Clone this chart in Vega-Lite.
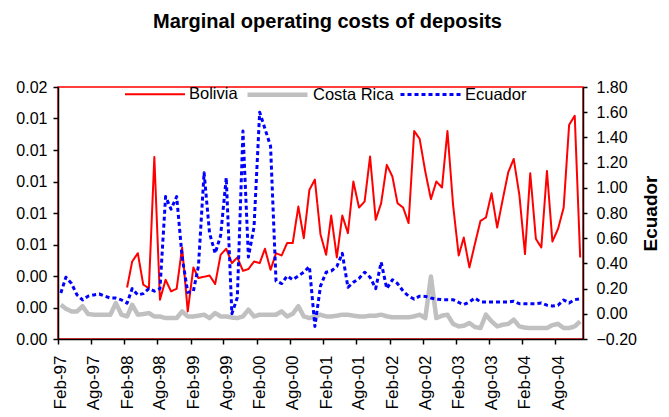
{
  "$schema": "https://vega.github.io/schema/vega-lite/v6.json",
  "width": 525,
  "height": 252,
  "autosize": {"type": "none"},
  "padding": {"left": 58, "top": 87, "right": 86, "bottom": 78},
  "title": {"text": "Marginal operating costs of deposits", "fontSize": 20, "fontWeight": "bold", "font": "Liberation Sans", "anchor": "middle", "dx": 7, "offset": 30, "color": "black"},
  "data": {"values": [
    {"date":"1997-02-01","series":"Costa Rica","value":0.00272},{"date":"1997-03-01","series":"Costa Rica","value":0.00240},{"date":"1997-04-01","series":"Costa Rica","value":0.00219},{"date":"1997-05-01","series":"Costa Rica","value":0.00219},{"date":"1997-06-01","series":"Costa Rica","value":0.00260},{"date":"1997-07-01","series":"Costa Rica","value":0.00198},{"date":"1997-08-01","series":"Costa Rica","value":0.00193},{"date":"1997-09-01","series":"Costa Rica","value":0.00193},{"date":"1997-10-01","series":"Costa Rica","value":0.00193},{"date":"1997-11-01","series":"Costa Rica","value":0.00193},{"date":"1997-12-01","series":"Costa Rica","value":0.00285},
    {"date":"1998-01-01","series":"Costa Rica","value":0.00193},{"date":"1998-02-01","series":"Costa Rica","value":0.00179},{"date":"1998-03-01","series":"Costa Rica","value":0.00272},{"date":"1998-04-01","series":"Costa Rica","value":0.00193},{"date":"1998-05-01","series":"Costa Rica","value":0.00198},{"date":"1998-06-01","series":"Costa Rica","value":0.00206},{"date":"1998-07-01","series":"Costa Rica","value":0.00179},{"date":"1998-08-01","series":"Costa Rica","value":0.00179},{"date":"1998-09-01","series":"Costa Rica","value":0.00166},{"date":"1998-10-01","series":"Costa Rica","value":0.00166},{"date":"1998-11-01","series":"Costa Rica","value":0.00166},{"date":"1998-12-01","series":"Costa Rica","value":0.00219},
    {"date":"1999-01-01","series":"Costa Rica","value":0.00179},{"date":"1999-02-01","series":"Costa Rica","value":0.00179},{"date":"1999-03-01","series":"Costa Rica","value":0.00185},{"date":"1999-04-01","series":"Costa Rica","value":0.00193},{"date":"1999-05-01","series":"Costa Rica","value":0.00166},{"date":"1999-06-01","series":"Costa Rica","value":0.00206},{"date":"1999-07-01","series":"Costa Rica","value":0.00179},{"date":"1999-08-01","series":"Costa Rica","value":0.00179},{"date":"1999-09-01","series":"Costa Rica","value":0.00170},{"date":"1999-10-01","series":"Costa Rica","value":0.00166},{"date":"1999-11-01","series":"Costa Rica","value":0.00179},{"date":"1999-12-01","series":"Costa Rica","value":0.00233},
    {"date":"2000-01-01","series":"Costa Rica","value":0.00179},{"date":"2000-02-01","series":"Costa Rica","value":0.00193},{"date":"2000-03-01","series":"Costa Rica","value":0.00193},{"date":"2000-04-01","series":"Costa Rica","value":0.00193},{"date":"2000-05-01","series":"Costa Rica","value":0.00193},{"date":"2000-06-01","series":"Costa Rica","value":0.00219},{"date":"2000-07-01","series":"Costa Rica","value":0.00179},{"date":"2000-08-01","series":"Costa Rica","value":0.00200},{"date":"2000-09-01","series":"Costa Rica","value":0.00260},{"date":"2000-10-01","series":"Costa Rica","value":0.00179},{"date":"2000-11-01","series":"Costa Rica","value":0.00166},{"date":"2000-12-01","series":"Costa Rica","value":0.00179},
    {"date":"2001-01-01","series":"Costa Rica","value":0.00193},{"date":"2001-02-01","series":"Costa Rica","value":0.00179},{"date":"2001-03-01","series":"Costa Rica","value":0.00179},{"date":"2001-04-01","series":"Costa Rica","value":0.00185},{"date":"2001-05-01","series":"Costa Rica","value":0.00193},{"date":"2001-06-01","series":"Costa Rica","value":0.00193},{"date":"2001-07-01","series":"Costa Rica","value":0.00185},{"date":"2001-08-01","series":"Costa Rica","value":0.00179},{"date":"2001-09-01","series":"Costa Rica","value":0.00179},{"date":"2001-10-01","series":"Costa Rica","value":0.00185},{"date":"2001-11-01","series":"Costa Rica","value":0.00185},{"date":"2001-12-01","series":"Costa Rica","value":0.00193},
    {"date":"2002-01-01","series":"Costa Rica","value":0.00180},{"date":"2002-02-01","series":"Costa Rica","value":0.00172},{"date":"2002-03-01","series":"Costa Rica","value":0.00172},{"date":"2002-04-01","series":"Costa Rica","value":0.00172},{"date":"2002-05-01","series":"Costa Rica","value":0.00172},{"date":"2002-06-01","series":"Costa Rica","value":0.00180},{"date":"2002-07-01","series":"Costa Rica","value":0.00193},{"date":"2002-08-01","series":"Costa Rica","value":0.00166},{"date":"2002-09-01","series":"Costa Rica","value":0.00496},{"date":"2002-10-01","series":"Costa Rica","value":0.00166},{"date":"2002-11-01","series":"Costa Rica","value":0.00185},{"date":"2002-12-01","series":"Costa Rica","value":0.00193},
    {"date":"2003-01-01","series":"Costa Rica","value":0.00120},{"date":"2003-02-01","series":"Costa Rica","value":0.00100},{"date":"2003-03-01","series":"Costa Rica","value":0.00105},{"date":"2003-04-01","series":"Costa Rica","value":0.00127},{"date":"2003-05-01","series":"Costa Rica","value":0.00095},{"date":"2003-06-01","series":"Costa Rica","value":0.00087},{"date":"2003-07-01","series":"Costa Rica","value":0.00193},{"date":"2003-08-01","series":"Costa Rica","value":0.00140},{"date":"2003-09-01","series":"Costa Rica","value":0.00100},{"date":"2003-10-01","series":"Costa Rica","value":0.00113},{"date":"2003-11-01","series":"Costa Rica","value":0.00120},{"date":"2003-12-01","series":"Costa Rica","value":0.00153},
    {"date":"2004-01-01","series":"Costa Rica","value":0.00100},{"date":"2004-02-01","series":"Costa Rica","value":0.00090},{"date":"2004-03-01","series":"Costa Rica","value":0.00087},{"date":"2004-04-01","series":"Costa Rica","value":0.00087},{"date":"2004-05-01","series":"Costa Rica","value":0.00087},{"date":"2004-06-01","series":"Costa Rica","value":0.00087},{"date":"2004-07-01","series":"Costa Rica","value":0.00110},{"date":"2004-08-01","series":"Costa Rica","value":0.00120},{"date":"2004-09-01","series":"Costa Rica","value":0.00087},{"date":"2004-10-01","series":"Costa Rica","value":0.00087},{"date":"2004-11-01","series":"Costa Rica","value":0.00100},{"date":"2004-12-01","series":"Costa Rica","value":0.00140},

    {"date":"1998-02-01","series":"Bolivia","value":0.00409},{"date":"1998-03-01","series":"Bolivia","value":0.00615},{"date":"1998-04-01","series":"Bolivia","value":0.00681},{"date":"1998-05-01","series":"Bolivia","value":0.00431},{"date":"1998-06-01","series":"Bolivia","value":0.00404},{"date":"1998-07-01","series":"Bolivia","value":0.01445},{"date":"1998-08-01","series":"Bolivia","value":0.00312},{"date":"1998-09-01","series":"Bolivia","value":0.00470},{"date":"1998-10-01","series":"Bolivia","value":0.00378},{"date":"1998-11-01","series":"Bolivia","value":0.00399},{"date":"1998-12-01","series":"Bolivia","value":0.00726},
    {"date":"1999-01-01","series":"Bolivia","value":0.00219},{"date":"1999-02-01","series":"Bolivia","value":0.00568},{"date":"1999-03-01","series":"Bolivia","value":0.00484},{"date":"1999-04-01","series":"Bolivia","value":0.00494},{"date":"1999-05-01","series":"Bolivia","value":0.00504},{"date":"1999-06-01","series":"Bolivia","value":0.00436},{"date":"1999-07-01","series":"Bolivia","value":0.00668},{"date":"1999-08-01","series":"Bolivia","value":0.00716},{"date":"1999-09-01","series":"Bolivia","value":0.00602},{"date":"1999-10-01","series":"Bolivia","value":0.00647},{"date":"1999-11-01","series":"Bolivia","value":0.00541},{"date":"1999-12-01","series":"Bolivia","value":0.00555},
    {"date":"2000-01-01","series":"Bolivia","value":0.00615},{"date":"2000-02-01","series":"Bolivia","value":0.00602},{"date":"2000-03-01","series":"Bolivia","value":0.00716},{"date":"2000-04-01","series":"Bolivia","value":0.00549},{"date":"2000-05-01","series":"Bolivia","value":0.00681},{"date":"2000-06-01","series":"Bolivia","value":0.00663},{"date":"2000-07-01","series":"Bolivia","value":0.00761},{"date":"2000-08-01","series":"Bolivia","value":0.00761},{"date":"2000-09-01","series":"Bolivia","value":0.01051},{"date":"2000-10-01","series":"Bolivia","value":0.00800},{"date":"2000-11-01","series":"Bolivia","value":0.01184},{"date":"2000-12-01","series":"Bolivia","value":0.01265},
    {"date":"2001-01-01","series":"Bolivia","value":0.00830},{"date":"2001-02-01","series":"Bolivia","value":0.00668},{"date":"2001-03-01","series":"Bolivia","value":0.00980},{"date":"2001-04-01","series":"Bolivia","value":0.00647},{"date":"2001-05-01","series":"Bolivia","value":0.00980},{"date":"2001-06-01","series":"Bolivia","value":0.00840},{"date":"2001-07-01","series":"Bolivia","value":0.01250},{"date":"2001-08-01","series":"Bolivia","value":0.01043},{"date":"2001-09-01","series":"Bolivia","value":0.01091},{"date":"2001-10-01","series":"Bolivia","value":0.01448},{"date":"2001-11-01","series":"Bolivia","value":0.00946},{"date":"2001-12-01","series":"Bolivia","value":0.01078},
    {"date":"2002-01-01","series":"Bolivia","value":0.01382},{"date":"2002-02-01","series":"Bolivia","value":0.01289},{"date":"2002-03-01","series":"Bolivia","value":0.01078},{"date":"2002-04-01","series":"Bolivia","value":0.01043},{"date":"2002-05-01","series":"Bolivia","value":0.00920},{"date":"2002-06-01","series":"Bolivia","value":0.01651},{"date":"2002-07-01","series":"Bolivia","value":0.01588},{"date":"2002-08-01","series":"Bolivia","value":0.01329},{"date":"2002-09-01","series":"Bolivia","value":0.01110},{"date":"2002-10-01","series":"Bolivia","value":0.01250},{"date":"2002-11-01","series":"Bolivia","value":0.01202},{"date":"2002-12-01","series":"Bolivia","value":0.01651},
    {"date":"2003-01-01","series":"Bolivia","value":0.01065},{"date":"2003-02-01","series":"Bolivia","value":0.00663},{"date":"2003-03-01","series":"Bolivia","value":0.00805},{"date":"2003-04-01","series":"Bolivia","value":0.00568},{"date":"2003-05-01","series":"Bolivia","value":0.00753},{"date":"2003-06-01","series":"Bolivia","value":0.00938},{"date":"2003-07-01","series":"Bolivia","value":0.00964},{"date":"2003-08-01","series":"Bolivia","value":0.01157},{"date":"2003-09-01","series":"Bolivia","value":0.00885},{"date":"2003-10-01","series":"Bolivia","value":0.01104},{"date":"2003-11-01","series":"Bolivia","value":0.01324},{"date":"2003-12-01","series":"Bolivia","value":0.01429},
    {"date":"2004-01-01","series":"Bolivia","value":0.01144},{"date":"2004-02-01","series":"Bolivia","value":0.00674},{"date":"2004-03-01","series":"Bolivia","value":0.01316},{"date":"2004-04-01","series":"Bolivia","value":0.00795},{"date":"2004-05-01","series":"Bolivia","value":0.00726},{"date":"2004-06-01","series":"Bolivia","value":0.01334},{"date":"2004-07-01","series":"Bolivia","value":0.00774},{"date":"2004-08-01","series":"Bolivia","value":0.00874},{"date":"2004-09-01","series":"Bolivia","value":0.01043},{"date":"2004-10-01","series":"Bolivia","value":0.01699},{"date":"2004-11-01","series":"Bolivia","value":0.01772},{"date":"2004-12-01","series":"Bolivia","value":0.00647},

    {"date":"1997-02-01","series":"Ecuador","value":0.165},{"date":"1997-03-01","series":"Ecuador","value":0.29},{"date":"1997-04-01","series":"Ecuador","value":0.24},{"date":"1997-05-01","series":"Ecuador","value":0.15},{"date":"1997-06-01","series":"Ecuador","value":0.11},{"date":"1997-07-01","series":"Ecuador","value":0.14},{"date":"1997-08-01","series":"Ecuador","value":0.15},{"date":"1997-09-01","series":"Ecuador","value":0.157},{"date":"1997-10-01","series":"Ecuador","value":0.14},{"date":"1997-11-01","series":"Ecuador","value":0.125},{"date":"1997-12-01","series":"Ecuador","value":0.125},
    {"date":"1998-01-01","series":"Ecuador","value":0.11},{"date":"1998-02-01","series":"Ecuador","value":0.085},{"date":"1998-03-01","series":"Ecuador","value":0.2},{"date":"1998-04-01","series":"Ecuador","value":0.15},{"date":"1998-05-01","series":"Ecuador","value":0.16},{"date":"1998-06-01","series":"Ecuador","value":0.2},{"date":"1998-07-01","series":"Ecuador","value":0.18},{"date":"1998-08-01","series":"Ecuador","value":0.2},{"date":"1998-09-01","series":"Ecuador","value":0.93},{"date":"1998-10-01","series":"Ecuador","value":0.83},{"date":"1998-11-01","series":"Ecuador","value":0.93},{"date":"1998-12-01","series":"Ecuador","value":0.45},
    {"date":"1999-01-01","series":"Ecuador","value":0.17},{"date":"1999-02-01","series":"Ecuador","value":0.18},{"date":"1999-03-01","series":"Ecuador","value":0.38},{"date":"1999-04-01","series":"Ecuador","value":1.12},{"date":"1999-05-01","series":"Ecuador","value":0.64},{"date":"1999-06-01","series":"Ecuador","value":0.48},{"date":"1999-07-01","series":"Ecuador","value":0.62},{"date":"1999-08-01","series":"Ecuador","value":1.08},{"date":"1999-09-01","series":"Ecuador","value":0.0},{"date":"1999-10-01","series":"Ecuador","value":0.13},{"date":"1999-11-01","series":"Ecuador","value":1.45},{"date":"1999-12-01","series":"Ecuador","value":0.45},
    {"date":"2000-01-01","series":"Ecuador","value":0.69},{"date":"2000-02-01","series":"Ecuador","value":1.6},{"date":"2000-03-01","series":"Ecuador","value":1.47},{"date":"2000-04-01","series":"Ecuador","value":1.33},{"date":"2000-05-01","series":"Ecuador","value":0.26},{"date":"2000-06-01","series":"Ecuador","value":0.24},{"date":"2000-07-01","series":"Ecuador","value":0.3},{"date":"2000-08-01","series":"Ecuador","value":0.27},{"date":"2000-09-01","series":"Ecuador","value":0.3},{"date":"2000-10-01","series":"Ecuador","value":0.33},{"date":"2000-11-01","series":"Ecuador","value":0.375},{"date":"2000-12-01","series":"Ecuador","value":-0.1},
    {"date":"2001-01-01","series":"Ecuador","value":0.22},{"date":"2001-02-01","series":"Ecuador","value":0.33},{"date":"2001-03-01","series":"Ecuador","value":0.34},{"date":"2001-04-01","series":"Ecuador","value":0.375},{"date":"2001-05-01","series":"Ecuador","value":0.48},{"date":"2001-06-01","series":"Ecuador","value":0.21},{"date":"2001-07-01","series":"Ecuador","value":0.25},{"date":"2001-08-01","series":"Ecuador","value":0.28},{"date":"2001-09-01","series":"Ecuador","value":0.33},{"date":"2001-10-01","series":"Ecuador","value":0.29},{"date":"2001-11-01","series":"Ecuador","value":0.2},{"date":"2001-12-01","series":"Ecuador","value":0.41},
    {"date":"2002-01-01","series":"Ecuador","value":0.2},{"date":"2002-02-01","series":"Ecuador","value":0.27},{"date":"2002-03-01","series":"Ecuador","value":0.24},{"date":"2002-04-01","series":"Ecuador","value":0.18},{"date":"2002-05-01","series":"Ecuador","value":0.14},{"date":"2002-06-01","series":"Ecuador","value":0.117},{"date":"2002-07-01","series":"Ecuador","value":0.14},{"date":"2002-08-01","series":"Ecuador","value":0.138},{"date":"2002-09-01","series":"Ecuador","value":0.125},{"date":"2002-10-01","series":"Ecuador","value":0.117},{"date":"2002-11-01","series":"Ecuador","value":0.112},{"date":"2002-12-01","series":"Ecuador","value":0.112},
    {"date":"2003-01-01","series":"Ecuador","value":0.112},{"date":"2003-02-01","series":"Ecuador","value":0.09},{"date":"2003-03-01","series":"Ecuador","value":0.073},{"date":"2003-04-01","series":"Ecuador","value":0.094},{"date":"2003-05-01","series":"Ecuador","value":0.125},{"date":"2003-06-01","series":"Ecuador","value":0.094},{"date":"2003-07-01","series":"Ecuador","value":0.094},{"date":"2003-08-01","series":"Ecuador","value":0.094},{"date":"2003-09-01","series":"Ecuador","value":0.094},{"date":"2003-10-01","series":"Ecuador","value":0.094},{"date":"2003-11-01","series":"Ecuador","value":0.094},{"date":"2003-12-01","series":"Ecuador","value":0.1},
    {"date":"2004-01-01","series":"Ecuador","value":0.08},{"date":"2004-02-01","series":"Ecuador","value":0.08},{"date":"2004-03-01","series":"Ecuador","value":0.08},{"date":"2004-04-01","series":"Ecuador","value":0.08},{"date":"2004-05-01","series":"Ecuador","value":0.086},{"date":"2004-06-01","series":"Ecuador","value":0.068},{"date":"2004-07-01","series":"Ecuador","value":0.062},{"date":"2004-08-01","series":"Ecuador","value":0.068},{"date":"2004-09-01","series":"Ecuador","value":0.11},{"date":"2004-10-01","series":"Ecuador","value":0.086},{"date":"2004-11-01","series":"Ecuador","value":0.112},{"date":"2004-12-01","series":"Ecuador","value":0.12}
  ]},
  "encoding": {
    "x": {
      "field": "date", "type": "temporal",
      "scale": {"type": "utc", "domain": ["1997-01-16T12:00:00Z", "2004-12-16T12:00:00Z"]},
      "axis": {
        "title": null,
        "values": [
          {"year":1997,"month":2,"date":1,"utc":true},{"year":1997,"month":8,"date":1,"utc":true},
          {"year":1998,"month":2,"date":1,"utc":true},{"year":1998,"month":8,"date":1,"utc":true},
          {"year":1999,"month":2,"date":1,"utc":true},{"year":1999,"month":8,"date":1,"utc":true},
          {"year":2000,"month":2,"date":1,"utc":true},{"year":2000,"month":8,"date":1,"utc":true},
          {"year":2001,"month":2,"date":1,"utc":true},{"year":2001,"month":8,"date":1,"utc":true},
          {"year":2002,"month":2,"date":1,"utc":true},{"year":2002,"month":8,"date":1,"utc":true},
          {"year":2003,"month":2,"date":1,"utc":true},{"year":2003,"month":8,"date":1,"utc":true},
          {"year":2004,"month":2,"date":1,"utc":true},{"year":2004,"month":8,"date":1,"utc":true}
        ],
        "labelExpr": "(utcmonth(datum.value) == 1 ? 'Feb-' : 'Ago-') + utcFormat(datum.value, '%y')",
        "labelAngle": 270, "labelAlign": "right", "labelBaseline": "middle",
        "labelFontSize": 17, "tickSize": 5, "labelPadding": 11,
        "tickOffset": -2.76, "labelOffset": 2.76, "labelOverlap": false, "labelFlush": false
      }
    },
    "color": {"field": "series", "type": "nominal",
      "scale": {"domain": ["Bolivia", "Costa Rica", "Ecuador"], "range": ["#ff0000", "#c0c0c0", "#0000ff"]},
      "legend": {
        "orient": "none", "legendX": 66, "legendY": -25, "direction": "horizontal", "title": null,
        "symbolType": "stroke", "symbolSize": 3600, "labelFontSize": 16.5, "labelOffset": 3, "columnPadding": 0,
        "padding": 0, "labelColor": "black", "labelFont": "Liberation Sans"
      }
    },
    "strokeWidth": {"field": "series", "type": "nominal",
      "scale": {"type": "ordinal", "domain": ["Bolivia", "Costa Rica", "Ecuador"], "range": [2, 4.5, 3]}},
    "strokeDash": {"field": "series", "type": "nominal",
      "scale": {"domain": ["Bolivia", "Costa Rica", "Ecuador"], "range": [[1, 0], [1, 0], [4, 3]]}}
  },
  "layer": [
    {
      "transform": [{"filter": "datum.series !== 'Ecuador'"}],
      "mark": {"type": "line", "strokeJoin": "round"},
      "encoding": {
        "y": {
          "field": "value", "type": "quantitative",
          "scale": {"domain": [0, 0.02], "nice": false, "zero": false},
          "axis": {
            "title": null, "orient": "left",
            "values": [0, 0.0025, 0.005, 0.0075, 0.01, 0.0125, 0.015, 0.0175, 0.02],
            "labelExpr": "datum.value < 0.006 ? '0.00' : (datum.value < 0.019 ? '0.01' : '0.02')",
            "labelFontSize": 16, "tickSize": 5, "labelPadding": 6
          }
        }
      }
    },
    {
      "transform": [{"filter": "datum.series === 'Ecuador'"}],
      "mark": {"type": "line", "strokeJoin": "round"},
      "encoding": {
        "y": {
          "field": "value", "type": "quantitative",
          "scale": {"domain": [-0.2, 1.8], "nice": false, "zero": false},
          "axis": {
            "title": "Ecuador", "orient": "right",
            "values": [-0.2, 0, 0.2, 0.4, 0.6, 0.8, 1.0, 1.2, 1.4, 1.6, 1.8],
            "format": ".2f", "labelFontSize": 16, "tickSize": 4, "labelPadding": 9,
            "titleFontSize": 19, "titleFontWeight": "bold", "titleAngle": 270, "titlePadding": 24, "titleColor": "black"
          }
        }
      }
    }
  ],
  "resolve": {"scale": {"y": "independent"}},
  "config": {
    "font": "Liberation Sans",
    "view": {"stroke": "#ff0000", "strokeWidth": 1.5},
    "axis": {"grid": false, "domainColor": "black", "domainWidth": 1.5, "tickColor": "black", "tickWidth": 1.5, "labelColor": "black", "labelFont": "Liberation Sans", "zindex": 1}
  }
}
